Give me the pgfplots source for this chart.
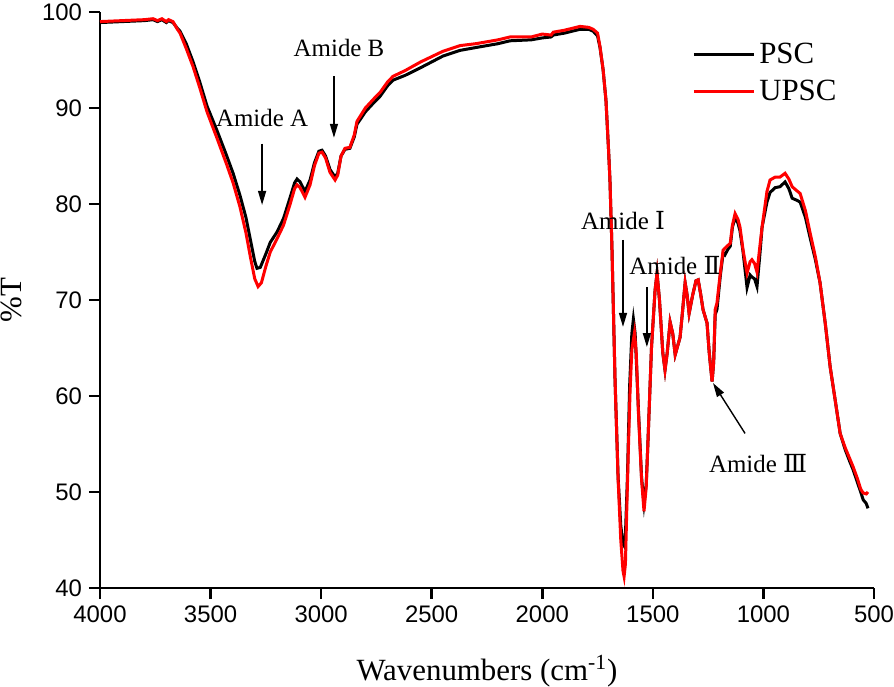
\documentclass[border=0pt]{standalone}
\usepackage{fontspec}
\setmainfont{Liberation Serif}
\setsansfont{Liberation Sans}
\newfontfamily\romfont{DejaVu Serif}
\usepackage{pgfplots}
\pgfplotsset{compat=1.18}
\usetikzlibrary{arrows.meta}

\pgfplotstableread{
w T
4000 98.9
3900 99.0
3800 99.1
3760 99.2
3740 99.0
3720 99.2
3700 98.9
3690 99.1
3670 98.9
3650 98.3
3638 98.0
3610 96.7
3579 94.8
3550 92.8
3516 90.2
3470 87.6
3430 85.2
3398 83.2
3367 80.9
3340 78.6
3320 76.3
3300 74.0
3290 73.3
3275 73.4
3250 74.8
3230 76.0
3199 77.1
3170 78.5
3140 80.7
3120 82.2
3109 82.6
3095 82.3
3073 81.3
3050 82.5
3030 84.3
3010 85.5
2996 85.6
2980 85.0
2960 83.6
2937 82.8
2925 83.2
2910 85.0
2892 85.7
2870 85.8
2850 87.0
2838 88.3
2800 89.6
2760 90.6
2734 91.2
2700 92.3
2675 92.9
2620 93.4
2550 94.2
2450 95.4
2372 96.0
2300 96.3
2200 96.7
2146 97.0
2050 97.1
2000 97.3
1960 97.4
1950 97.6
1900 97.8
1829 98.2
1790 98.2
1770 98.0
1750 97.5
1739 96.3
1725 94.0
1712 90.8
1700 85.5
1694 82.5
1685 75.5
1671 61.7
1657 51.5
1645 46.5
1635 44.6
1630 44.4
1624 45.5
1615 51.5
1605 61.0
1595 66.5
1588 68.0
1580 66.5
1565 58.5
1551 51.5
1540 48.8
1530 50.8
1523 54.7
1506 65.1
1490 71.0
1481 72.8
1470 70.0
1455 64.5
1445 62.7
1435 64.5
1422 67.7
1410 66.5
1399 64.3
1388 65.2
1377 66.1
1365 69.0
1354 71.8
1345 70.5
1336 68.6
1320 70.5
1305 72.0
1295 72.1
1283 70.5
1273 69.0
1255 67.6
1245 64.5
1232 61.5
1225 63.5
1218 68.5
1210 69.0
1195 72.5
1182 74.9
1174 74.7
1160 75.3
1150 75.6
1140 77.6
1128 78.6
1115 78.0
1106 77.2
1092 75.0
1074 71.3
1060 72.6
1052 72.4
1040 72.2
1029 71.4
1015 75.0
1006 77.6
984 80.2
970 81.2
947 81.7
925 81.8
902 82.3
885 81.6
870 80.6
850 80.4
834 80.2
810 78.6
789 76.5
765 74.2
744 71.8
720 67.5
698 63.0
675 59.5
653 56.1
630 54.4
610 53.2
594 52.3
575 51.0
560 50.0
549 49.2
535 48.8
527 48.3
}\psc

\pgfplotstableread{
w T
4000 99.0
3900 99.1
3800 99.2
3760 99.3
3740 99.1
3720 99.3
3700 99.0
3690 99.2
3670 99.0
3650 98.2
3638 97.8
3610 96.2
3579 94.3
3550 92.2
3516 89.6
3470 86.8
3430 84.3
3398 82.2
3367 79.7
3340 77.0
3320 74.5
3300 72.2
3285 71.4
3270 71.8
3250 73.5
3230 75.0
3199 76.4
3170 77.8
3140 80.0
3120 81.6
3109 82.0
3095 81.7
3073 80.7
3050 82.0
3030 84.0
3010 85.3
2996 85.4
2980 84.8
2960 83.3
2937 82.5
2925 83.0
2910 85.0
2892 85.8
2870 85.9
2850 87.2
2838 88.6
2800 90.0
2760 91.0
2734 91.6
2700 92.7
2675 93.3
2620 93.9
2550 94.8
2450 95.9
2372 96.5
2300 96.7
2200 97.1
2146 97.4
2050 97.4
2000 97.7
1960 97.6
1950 97.9
1900 98.1
1829 98.5
1790 98.4
1770 98.2
1750 97.8
1739 96.4
1725 94.0
1712 90.8
1700 85.5
1694 82.5
1685 75.5
1671 61.7
1657 51.3
1645 45.0
1635 41.8
1630 41.2
1624 42.5
1617 49.0
1610 55.0
1603 60.5
1595 64.8
1583 66.6
1575 64.5
1565 58.2
1551 51.3
1540 48.0
1530 50.5
1523 54.7
1506 65.1
1490 71.0
1481 72.8
1470 70.0
1455 64.5
1445 62.7
1435 64.5
1422 67.7
1410 66.5
1399 64.3
1388 65.2
1377 66.1
1365 69.0
1354 71.8
1345 70.5
1336 68.6
1320 70.5
1305 72.0
1295 72.1
1283 70.5
1273 69.0
1255 67.6
1245 64.5
1232 61.5
1225 63.5
1218 69.0
1210 69.7
1195 72.8
1182 75.2
1174 75.4
1160 75.7
1150 75.9
1140 77.8
1128 79.0
1115 78.4
1106 77.6
1092 75.2
1074 72.8
1060 74.0
1052 74.2
1040 73.8
1029 72.9
1015 75.8
1006 77.6
984 81.3
970 82.5
947 82.8
925 82.8
902 83.2
885 82.6
870 81.8
850 81.4
834 81.1
810 79.3
789 77.0
765 74.5
744 71.8
720 67.5
698 63.0
675 59.5
653 56.1
630 54.6
610 53.5
594 52.6
575 51.4
560 50.3
549 49.9
535 49.8
527 50.0
}\upsc

\begin{document}
\begin{tikzpicture}
\begin{axis}[
    scale only axis,
    width=387bp, height=288bp,
    x dir=reverse,
    xmin=500, xmax=4000,
    ymin=40, ymax=100,
    xtick={500,1000,...,4000},
    ytick={40,50,...,100},
    axis x line*=bottom,
    axis y line*=left,
    axis line style={line width=1.3bp},
    tick style={line width=1.3bp, black},
    tick align=outside,
    major tick length=5.5bp,
    /pgf/number format/1000 sep={},
    /pgf/number format/assume math mode=true,
    scaled ticks=false,
    tick label style={font=\fontsize{12}{14}\selectfont\sffamily},
    xlabel={Wavenumbers (cm\textsuperscript{-1})},
    ylabel={\%T},
    label style={font=\fontsize{15.5}{18}\selectfont},
    xlabel style={at={(axis description cs:0.5,-0.16)}, anchor=base},
    ylabel style={at={(axis description cs:-0.1008,0.5)}, anchor=base},
    legend style={draw=none, fill=none, at={(0.757,0.961)}, anchor=north west,
        row sep=3bp, font=\fontsize{15.5}{18}\selectfont},
    legend cell align=left,
    legend image code/.code={\draw[#1] (0bp,0bp) -- (30bp,0bp);},
]
\addplot[black, line width=1.5bp] table[x=w, y=T] {\psc};
\addlegendentry{PSC}
\addplot[red, line width=1.5bp] table[x=w, y=T] {\upsc};
\addlegendentry{UPSC}

\coordinate (bl) at (axis description cs:0,0);
\coordinate (tr) at (axis description cs:1,1);

\begin{scope}[font=\fontsize{12.5}{15}\selectfont]
\node at (axis cs:3267,88.96) {Amide A};
\node at (axis cs:2919,96.25) {Amide B};
\node at (axis cs:1635,78.3) {Amide {\romfont Ⅰ}};
\node at (axis cs:1400,73.6) {Amide {\romfont Ⅱ}};
\node at (axis cs:1024,53.0) {Amide {\romfont Ⅲ}};
\end{scope}
\begin{scope}[line width=0.7bp, -{Triangle[length=7bp,width=4bp]}]
\draw (axis cs:3267,86.3) -- (axis cs:3267,79.9);
\draw (axis cs:2942,93.3) -- (axis cs:2942,86.9);
\draw (axis cs:1635,76.25) -- (axis cs:1635,67.2);
\draw (axis cs:1527,71.35) -- (axis cs:1527,65.1);
\draw (axis cs:1083,56.1) -- (axis cs:1228,61.35);
\end{scope}
\end{axis}
\pgfresetboundingbox
\path[use as bounding box] ([shift={(-50bp,-49.5bp)}]bl) rectangle ([shift={(10bp,6bp)}]tr);
\end{tikzpicture}
\end{document}
